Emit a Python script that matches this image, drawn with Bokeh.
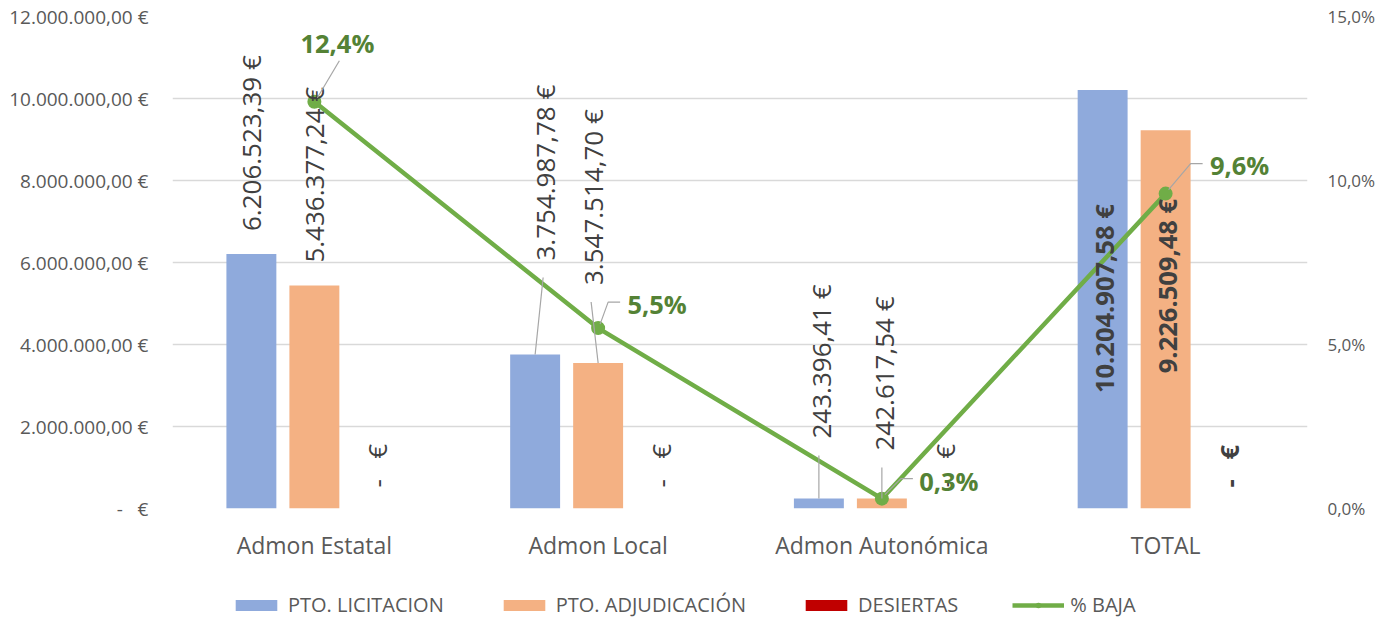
import math
from bokeh.plotting import figure
from bokeh.layouts import column
from bokeh.models import (Range1d, LinearAxis, FixedTicker, Legend, LegendItem,
                          ColumnDataSource)
from bokeh.embed import file_html
from bokeh.resources import INLINE
from bokeh.core.properties import value

# ---------------- data ----------------
categories = ["Admon Estatal", "Admon Local", "Admon Autonómica", "TOTAL"]
pto_licitacion = [6206523.39, 3754987.78, 243396.41, 10204907.58]
pto_adjudicacion = [5436377.24, 3547514.70, 242617.54, 9226509.48]
desiertas = [0.0, 0.0, 0.0, 0.0]
pct_baja = [12.4, 5.5, 0.3, 9.6]
series_names = ["PTO. LICITACION", "PTO. ADJUDICACIÓN", "DESIERTAS", "% BAJA"]

left_ticks = [0, 2000000, 4000000, 6000000, 8000000, 10000000, 12000000]
left_tick_labels = ["-\u00a0\u00a0\u00a0€", "2.000.000,00 €", "4.000.000,00 €", "6.000.000,00 €",
                    "8.000.000,00 €", "10.000.000,00 €", "12.000.000,00 €"]
right_ticks = [0, 5, 10, 15]
right_tick_labels = ["0,0%", "5,0%", "10,0%", "15,0%"]

# ---------------- styles ----------------
BLUE, ORANGE, RED, GREEN = "#8FAADC", "#F4B183", "#C00000", "#70AD47"
LABEL_GREEN = "#548235"
TXT = "#595959"
DLBL = "#404040"
GRID = "#D9D9D9"
LEAD = "#A6A6A6"
FONT = value("Open Sans")

TOTAL_W = 1397
FRAME_W, FRAME_H = 1135, 492
BORDER_L, BORDER_T = 172, 16
BORDER_R = TOTAL_W - BORDER_L - FRAME_W
LEG_H = 30
BORDER_B = 618 - LEG_H - BORDER_T - FRAME_H
X_PER_PX = 4.0 / FRAME_W
M_PER_PX = 12e6 / FRAME_H
P_PER_PX = 15.0 / FRAME_H

BAR_OFFSETS = [-0.222, 0.0, 0.222]
BAR_W = 0.176

# label placement (pixels): horizontal shift, distance of label start above bar top
LBL_DX = [[0, 0, 0], [10, -5, 0], [2, 2, 0], [1, 1, 0]]
LBL_DY = [[23, 23, 21], [94, 78, 21], [60, 48, 21], [-303, -243, 21]]
LBL_LEADER = [[0, 0, 0], [1, 1, 0], [1, 1, 0], [0, 0, 0]]
LBL_BOLD = [False, False, False, True]

PCT_LBL_OFF = [(23, -59), (59, -24), (67, -18), (74, -29)]
PCT_LEADERS = [[(3, -4), (25, -41)],
               [(2, -4), (10, -26), (22, -26)],
               [(3, -4), (19, -20), (31, -20)],
               [(3, -4), (25, -30), (37, -30)]]


def eur(v):
    if v == 0:
        return "-\u00a0\u00a0\u00a0€"
    s = f"{v:,.2f}"
    return s.replace(",", "X").replace(".", ",").replace("X", ".") + " €"


def pct(v):
    return f"{v:.1f}".replace(".", ",") + "%"


# ---------------- figure ----------------
p = figure(width=TOTAL_W, height=BORDER_T + FRAME_H + BORDER_B,
           x_range=Range1d(-0.5, 3.5), y_range=Range1d(0, 12e6),
           output_backend="svg", toolbar_location=None,
           min_border_left=BORDER_L, min_border_right=BORDER_R,
           min_border_top=BORDER_T, min_border_bottom=BORDER_B)
p.extra_y_ranges = {"pct": Range1d(0, 15)}
p.outline_line_color = None
p.xgrid.grid_line_color = None
p.ygrid.grid_line_color = GRID
p.ygrid.grid_line_width = 1.5
p.ygrid.ticker = FixedTicker(ticks=left_ticks)

yax = p.yaxis[0]
yax.ticker = FixedTicker(ticks=left_ticks)
yax.major_label_overrides = {t: l for t, l in zip(left_ticks, left_tick_labels)}
xax = p.xaxis[0]
xax.ticker = FixedTicker(ticks=list(range(len(categories))))
xax.major_label_overrides = {i: c for i, c in enumerate(categories)}

rax = LinearAxis(y_range_name="pct", ticker=FixedTicker(ticks=right_ticks),
                 major_label_overrides={t: l for t, l in zip(right_ticks, right_tick_labels)})
p.add_layout(rax, "right")

for ax, fs, st in ((yax, "19px", 24), (rax, "17px", 20), (xax, "23px", 20)):
    ax.axis_line_color = None
    ax.major_tick_line_color = None
    ax.minor_tick_line_color = None
    ax.major_tick_out = 0
    ax.major_tick_in = 0
    ax.major_label_text_font = "Open Sans"
    ax.major_label_text_font_size = fs
    ax.major_label_text_color = TXT
    ax.major_label_standoff = st

# ---------------- bars ----------------
xs = list(range(len(categories)))
series_vals = [pto_licitacion, pto_adjudicacion, desiertas]
colors = [BLUE, ORANGE, RED]
for k, (vals, col) in enumerate(zip(series_vals, colors)):
    bx = [x + BAR_OFFSETS[k] for x in xs]
    p.vbar(x=bx, top=vals, width=BAR_W, fill_color=col, line_color=None)

# ---------------- line ----------------
p.line(xs, pct_baja, y_range_name="pct", line_color=GREEN, line_width=4.5)
p.scatter(xs, pct_baja, y_range_name="pct", size=14, fill_color=GREEN, line_color=None)

# ---------------- bar data labels ----------------
norm = dict(x=[], y=[], text=[])
bold = dict(x=[], y=[], text=[])
lead_x, lead_y = [], []
for i in xs:
    for k, vals in enumerate(series_vals):
        v = vals[i]
        bx = i + BAR_OFFSETS[k]
        lx = bx + LBL_DX[i][k] * X_PER_PX
        ly = v + LBL_DY[i][k] * M_PER_PX
        tgt = bold if LBL_BOLD[i] else norm
        tgt["x"].append(lx)
        tgt["y"].append(ly)
        tgt["text"].append(eur(v))
        if LBL_LEADER[i][k]:
            lead_x.append([bx, lx - 2 * X_PER_PX])
            lead_y.append([v, ly - 17 * M_PER_PX])

p.multi_line(lead_x, lead_y, line_color=LEAD, line_width=1.2)
p.text(x="x", y="y", text="text", source=ColumnDataSource(norm), angle=math.pi / 2,
       text_align="left", text_baseline="middle", text_font=FONT,
       text_font_size=value("26px"), text_color=DLBL)
p.text(x="x", y="y", text="text", source=ColumnDataSource(bold), angle=math.pi / 2,
       text_align="left", text_baseline="middle", text_font=FONT,
       text_font_size=value("25.5px"), text_font_style="bold", text_color=DLBL)

# ---------------- percent labels ----------------
px_, py_, pt_ = [], [], []
plx, ply = [], []
for i in xs:
    dx, dy = PCT_LBL_OFF[i]
    px_.append(i + dx * X_PER_PX)
    py_.append(pct_baja[i] - dy * P_PER_PX)
    pt_.append(pct(pct_baja[i]))
    plx.append([i + a * X_PER_PX for a, b in PCT_LEADERS[i]])
    ply.append([pct_baja[i] - b * P_PER_PX for a, b in PCT_LEADERS[i]])
p.multi_line(plx, ply, y_range_name="pct", line_color=LEAD, line_width=1.2)
p.text(px_, py_, text=pt_, y_range_name="pct", text_align="center", text_baseline="middle",
       text_font=FONT, text_font_size=value("25.5px"), text_font_style="bold",
       text_color=LABEL_GREEN)

# ---------------- legend (separate strip below the chart) ----------------
lf = figure(width=TOTAL_W, height=LEG_H, output_backend="svg", toolbar_location=None,
            x_axis_type=None, y_axis_type=None, x_range=Range1d(0, 1), y_range=Range1d(0, 1),
            min_border_left=BORDER_L, min_border_right=BORDER_R,
            min_border_top=0, min_border_bottom=0)
lf.outline_line_color = None
lf.xgrid.grid_line_color = None
lf.ygrid.grid_line_color = None
NAN = float("nan")
# placeholder glyphs with no drawable data: they only serve as legend swatches
lr = [lf.vbar(x=[NAN], top=[NAN], width=0.1, fill_color=c, line_color=None) for c in colors]
ll = lf.line(x=[NAN, NAN], y=[NAN, NAN], line_color=GREEN, line_width=4.5)
ls = lf.scatter(x=[NAN], y=[NAN], size=14, fill_color=GREEN, line_color=None)
items = [LegendItem(label=series_names[0], renderers=[lr[0]]),
         LegendItem(label=series_names[1], renderers=[lr[1]]),
         LegendItem(label=series_names[2], renderers=[lr[2]]),
         LegendItem(label=series_names[3], renderers=[ll, ls])]
legend = Legend(items=items, orientation="horizontal", location=(230 - BORDER_L, 0),
                glyph_width=52, glyph_height=14, label_height=14, label_standoff=6,
                spacing=54, padding=0, margin=0, border_line_color=None,
                background_fill_alpha=0, label_text_font="Open Sans",
                label_text_font_size="20px", label_text_color=TXT)
lf.add_layout(legend, "center")

layout = column(p, lf, spacing=0)
open("out.html", "w").write(file_html(layout, INLINE))
